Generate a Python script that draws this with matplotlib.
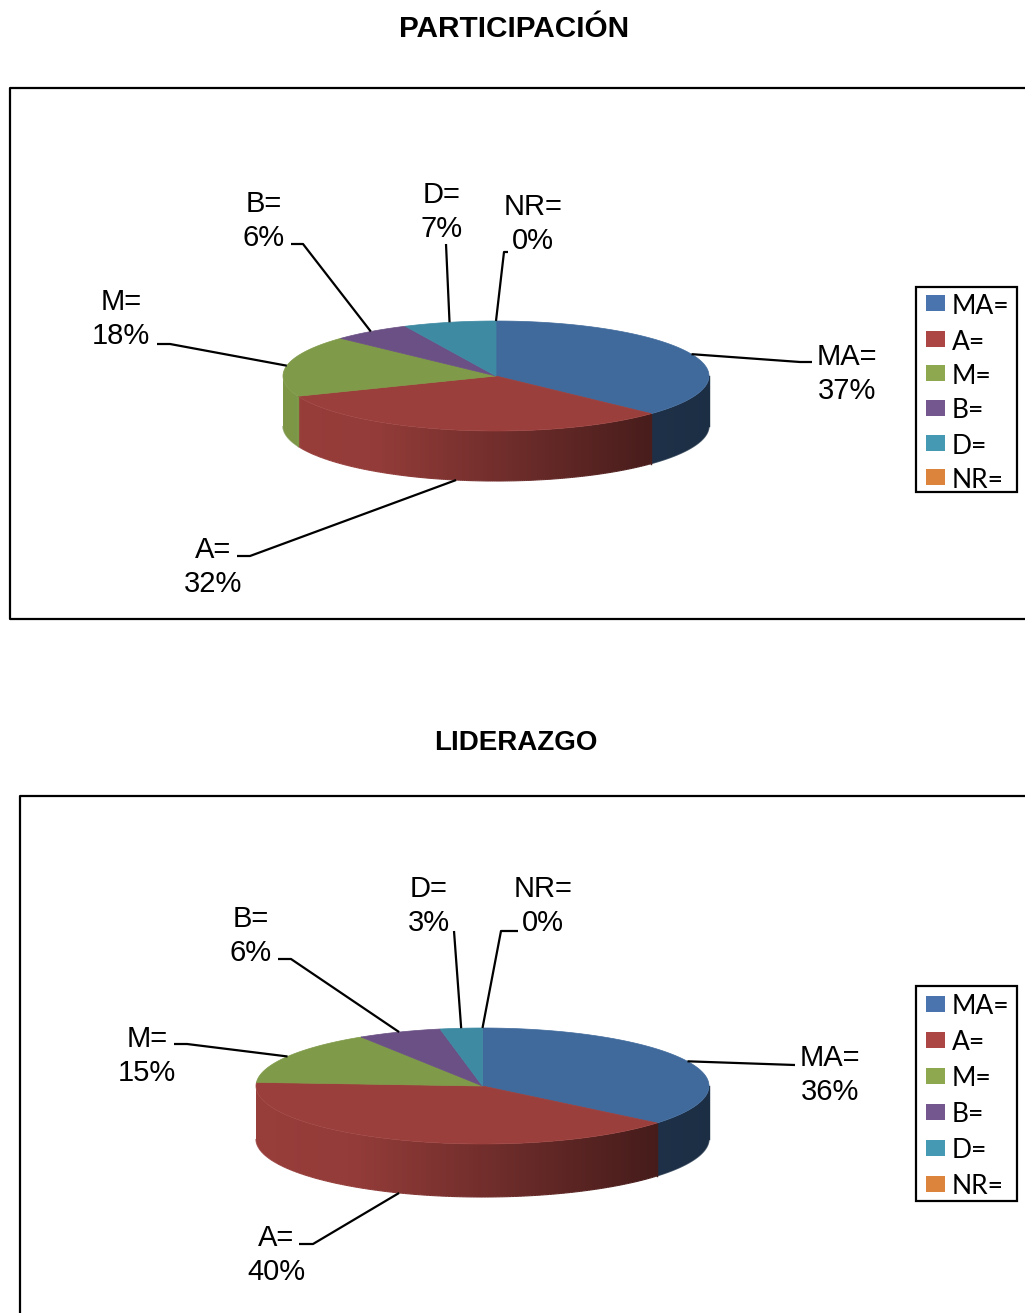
import numpy as np
import matplotlib
matplotlib.use('Agg')
import matplotlib.pyplot as plt
from matplotlib.collections import LineCollection
from matplotlib.patches import Polygon, Rectangle

plt.rcParams['font.family'] = ['Liberation Sans', 'DejaVu Sans']

# ---- datos ----
categorias = ['MA=', 'A=', 'M=', 'B=', 'D=', 'NR=']
participacion = [37, 32, 18, 6, 7, 0]
liderazgo = [36, 40, 15, 6, 3, 0]

color_tapa = ['#406a9c', '#9b3f3c', '#7f9a48', '#6a5084', '#3e8aa3', '#d9803a']
color_leyenda = ['#4a74ad', '#ab4644', '#8ea850', '#74578f', '#4599b3', '#dd843c']

W, H = 1025, 1313
fig = plt.figure(figsize=(W / 100, H / 100), dpi=100)
ax = fig.add_axes([0, 0, 1, 1])
ax.axis('off')


def sombra(color, t):
    # oscurece la pared lateral de izquierda a derecha
    f = np.interp(t, [0, 0.22, 0.87, 1], [0.98, 0.95, 0.46, 0.44])
    return np.array(matplotlib.colors.to_rgb(color)) * f[..., None]


def tarta(valores, cx, cy, rx, ry, alto):
    total = sum(valores)
    limites = np.cumsum([0] + valores) / total * 360

    # pared lateral: solo la mitad frontal (90 a 270 grados)
    for i, v in enumerate(valores):
        a0, a1 = max(limites[i], 90), min(limites[i + 1], 270)
        if a1 <= a0:
            continue
        ang = np.radians(np.linspace(a0, a1, 200))
        xs = cx + rx * np.sin(ang)
        ys = cy - ry * np.cos(ang)
        pared = list(zip(xs, ys)) + list(zip(xs[::-1], ys[::-1] + alto))
        columnas = np.arange(np.floor(xs.min()), np.ceil(xs.max()) + 1)
        degradado = sombra(color_tapa[i], (columnas - cx + rx) / (2 * rx))[None, :, :]
        im = ax.imshow(degradado, extent=[columnas[0], columnas[-1], ys.max() + alto + 1, ys.min() - 1],
                       aspect='auto', interpolation='bilinear', zorder=1)
        im.set_clip_path(Polygon(pared, closed=True, transform=ax.transData))
        # borde inferior suavizado
        tonos = sombra(color_tapa[i], (xs[:-1] - cx + rx) / (2 * rx))
        tramos = [[(xs[k], ys[k] + alto), (xs[k + 1], ys[k + 1] + alto)] for k in range(len(xs) - 1)]
        ax.add_collection(LineCollection(tramos, colors=tonos, linewidths=0.8, zorder=1.5))
        # tapa la junta entre dos porciones contiguas
        ax.plot([xs[0], xs[0]], [ys[0], ys[0] + alto], color=tonos[0], lw=1, zorder=1.5)

    # tapa superior
    for i, v in enumerate(valores):
        if v == 0:
            continue
        ang = np.radians(np.linspace(limites[i], limites[i + 1], 200))
        pts = [(cx, cy)] + list(zip(cx + rx * np.sin(ang), cy - ry * np.cos(ang)))
        ax.add_patch(Polygon(pts, closed=True, facecolor=color_tapa[i],
                             edgecolor=color_tapa[i], linewidth=0.5, zorder=2))
    return limites


def etiquetas(valores, limites, cx, cy, rx, ry, alto, codos, textos):
    # línea guía desde el borde de cada porción hasta su etiqueta
    for i, v in enumerate(valores):
        medio = np.radians((limites[i] + limites[i + 1]) / 2)
        x0 = cx + rx * np.sin(medio)
        y0 = cy - ry * np.cos(medio)
        if 90 < np.degrees(medio) < 270:
            y0 += alto
        px = [x0] + [c[0] for c in codos[i]]
        py = [y0] + [c[1] for c in codos[i]]
        ax.plot(px, py, color='black', lw=1.6, solid_capstyle='butt', zorder=5)
        tx, ty = textos[i]
        ax.text(tx, ty + 2, categorias[i], ha='center', va='center', fontsize=21)
        ax.text(tx, ty + 36, f'{v}%', ha='center', va='center', fontsize=21)


def leyenda(x0, y0, x1, y1, filas):
    ax.add_patch(Rectangle((x0, y0), x1 - x0, y1 - y0, facecolor='white',
                           edgecolor='black', linewidth=1.6, zorder=3))
    for nombre, color, yf in zip(categorias, color_leyenda, filas):
        ax.add_patch(Rectangle((926, yf - 8), 19, 16, facecolor=color, edgecolor='none', zorder=4))
        ax.text(952, yf + 3, nombre, ha='left', va='center', family='Lato', fontsize=19, zorder=4)


# ---- PARTICIPACIÓN ----
ax.text(514, 29, 'PARTICIPACIÓN', ha='center', va='center', fontsize=21.4, fontweight='bold')
ax.plot([1025, 10, 10, 1025], [88, 88, 619, 619], color='black', lw=1.6)
lim = tarta(participacion, 496, 376, 213, 55, 50)
etiquetas(participacion, lim, 496, 376, 213, 55, 50,
          [[(800, 362), (812, 362)], [(250, 556), (237, 556)], [(170, 344), (157, 344)],
           [(303, 244), (291, 244)], [(446, 244)], [(504, 252), (508, 252)]],
          [(847, 355), (213, 548), (121, 300), (264, 202), (442, 193), (533, 205)])
leyenda(916, 287, 1017, 492, [303, 339, 373, 408, 443, 477])

# ---- LIDERAZGO ----
ax.text(516, 743, 'LIDERAZGO', ha='center', va='center', fontsize=20, fontweight='bold')
ax.plot([1025, 20, 20], [796, 796, 1313], color='black', lw=1.6)
lim = tarta(liderazgo, 482.5, 1086, 226.5, 58, 53)
etiquetas(liderazgo, lim, 482.5, 1086, 226.5, 58, 53,
          [[(795, 1065)], [(313, 1244), (299, 1244)], [(187, 1044), (174, 1044)],
           [(291, 959), (278, 959)], [(454, 931)], [(501, 931), (518, 931)]],
          [(830, 1056), (276, 1236), (147, 1037), (251, 917), (429, 887), (543, 887)])
leyenda(916, 986, 1017, 1201, [1004, 1040, 1076, 1112, 1148, 1184])

ax.set_xlim(0, W)
ax.set_ylim(H, 0)
fig.savefig('out.png', dpi=100)
